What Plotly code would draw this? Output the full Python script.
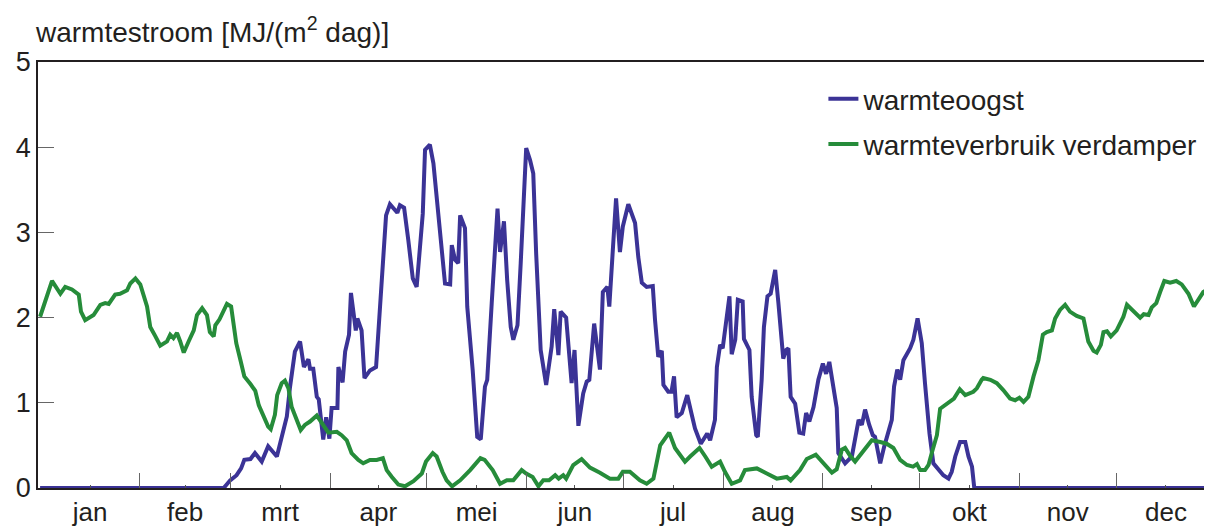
import plotly.graph_objects as go

# ---- data ----
maanden = ["jan", "feb", "mrt", "apr", "mei", "jun", "jul", "aug", "sep", "okt", "nov", "dec"]
maand_midden = [15.5, 45, 74.5, 105, 135.5, 166, 196.5, 227.5, 258, 288.5, 319, 349.5]
maand_grens = [31, 59, 90, 120, 151, 181, 212, 243, 273, 304, 334]

dag_oogst = [0, 57, 59, 61, 62.4, 63.4, 65.3, 66.7, 68.8, 70.8, 73.5, 75, 76.6, 77.6, 79.1, 80.7,
             81.9, 83.3, 83.8, 84.8, 85.9, 86.5, 87.9, 88.8, 89.8, 90.5, 92.3, 92.6, 93.9, 94.7,
             95.9, 96.5, 98, 98.5, 99.8, 100.7, 102.4, 104.3, 105.5, 106.5, 107.4, 108.6, 110.9,
             111.7, 113, 114.3, 115.7, 116.9, 117.7, 118.8, 119.5, 121, 122.1, 123.6, 125.7, 127.3,
             127.8, 128.8, 129.8, 130.4, 131.9, 132.6, 134.3, 135.7, 136.8, 138.1, 138.8, 140.2,
             142.0, 142.8, 144, 145, 146.1, 146.9, 148.2, 149.2, 150, 150.9, 152.1, 153.1, 154,
             155.4, 157.1, 158.8, 159.6, 160.9, 161.6, 163.3, 165, 165.9, 167.1, 168.6, 169.7,
             170.5, 172, 173.8, 174.7, 176.1, 176.7, 178.8, 180, 180.9, 182.6, 184.7, 185.7, 186.8,
             188.3, 190.2, 190.9, 191.9, 193, 193.5, 195, 196, 196.8, 197.6, 199.2, 200.9, 202.3,
             203.3, 205.1, 207.1, 208, 209.5, 210.1, 211.1, 211.9, 214, 214.7, 215.8, 216.6, 218.1,
             218.5, 220.2, 220.9, 222.3, 222.8, 224, 224.7, 225.8, 226.8, 228.2, 229.2, 230.7,
             231.6, 232.3, 233, 234.4, 235.7, 236.9, 237.8, 238.8, 240.1, 241.6, 243, 244, 245,
             246.3, 247.3, 247.8, 249.9, 252, 253, 254.1, 255.1, 256.1, 257.4, 258.5, 259.2, 260.8,
             262, 263.3, 264.4, 265.1, 266.1, 267, 268, 270.1, 271.1, 272.4, 273.7, 274.7, 276.1,
             277.3, 278.9, 280.4, 282, 283, 284.1, 285.6, 287.2, 288.2, 289.3, 290, 364]
oogst = [0, 0, 0.09, 0.15, 0.23, 0.33, 0.34, 0.41, 0.31, 0.49, 0.37, 0.60, 0.84, 1.19, 1.60, 1.72,
         1.42, 1.51, 1.40, 1.40, 1.07, 1.04, 0.57, 0.83, 0.58, 0.94, 0.94, 1.42, 1.24, 1.60,
         1.80, 2.29, 1.85, 1.99, 1.85, 1.29, 1.38, 1.42, 2.17, 2.70, 3.20, 3.33, 3.23,
         3.32, 3.29, 2.91, 2.46, 2.36, 2.71, 3.22, 3.97, 4.03, 3.81, 3.22, 2.40, 2.39,
         2.85, 2.68, 2.64, 3.20, 3.05, 2.13, 1.38, 0.60, 0.57, 1.19, 1.27, 2.17,
         3.28, 2.77, 3.13, 2.44, 1.89, 1.74, 1.91, 2.64, 3.26, 3.99, 3.85, 3.69, 2.75,
         1.62, 1.21, 1.66, 2.10, 1.56, 2.07, 2.00, 1.23, 1.62, 0.73, 1.11, 1.25,
         1.27, 1.93, 1.39, 2.30, 2.36, 2.13, 3.40, 2.77, 3.07, 3.33, 3.11, 2.71, 2.41,
         2.36, 2.37, 1.97, 1.54, 1.61, 1.21, 1.13, 1.13, 1.31, 0.83, 0.88, 1.09, 0.86,
         0.70, 0.52, 0.64, 0.56, 0.80, 1.42, 1.68, 1.64, 2.25, 1.57, 1.74, 2.21, 2.19,
         1.75, 1.62, 1.07, 0.62, 0.60, 1.27, 1.89, 2.25, 2.28, 2.56, 2.17, 1.52,
         1.62, 1.64, 1.07, 0.99, 0.65, 0.64, 0.88, 0.78, 0.95, 1.27, 1.46, 1.34, 1.48,
         1.15, 0.94, 0.41, 0.29, 0.37, 0.56, 0.80, 0.74, 0.92, 0.74, 0.62, 0.60, 0.29,
         0.48, 0.66, 0.80, 1.19, 1.39, 1.27, 1.50, 1.64, 1.74, 1.99, 1.70, 1.23, 0.64,
         0.29, 0.21, 0.15, 0.11, 0.19, 0.37, 0.54, 0.54, 0.37, 0.25, 0, 0]

dag_verbruik = [0, 1.6, 3.7, 6.3, 7.8, 9.9, 12, 12.7, 14, 16.6, 18.7, 20.2, 21.3, 23.3, 24.8, 27, 28,
                29.6, 31.1, 33.2, 34.2, 35.8, 37.3, 39.4, 40.4, 41.4, 42.5, 43.5, 44.6, 46.1, 47.7,
                48.7, 50.3, 51.8, 52.7, 53.9, 54.4, 55.7, 56.5, 58, 59.3, 60.9, 62.2, 63.4, 65.3,
                66.8, 67.9, 69.3, 70.8, 71.6, 72.9, 73.6, 75, 76, 77.1, 78.1, 79.7, 80.9, 82.2,
                83.8, 85.9, 87.4, 89.5, 92.1, 93.6, 95.2, 96.7, 98.8, 100.3, 102.4, 104.5, 106.4,
                107.6, 109.2, 111.2, 113.3, 115.9, 118.5, 119.8, 121.9, 123.1, 124.9, 126.2, 127.9,
                130.4, 133.5, 136.7, 138, 140.5, 142.8, 144.9, 146.9, 149.5, 150.9, 152.9, 154.7,
                156.2, 158, 159.9, 161, 162.4, 163.3, 165.5, 168.1, 170.7, 173.8, 176.9, 179.5,
                180.9, 183.1, 186.2, 188.3, 190.4, 192.5, 195.3, 197.1, 200.2, 201.8, 204.7, 206.5,
                208.5, 211.1, 212.6, 214.7, 217.3, 218.8, 222.5, 225.6, 228.7, 231.8, 233, 235.9,
                238, 240.8, 243.2, 245.8, 247.3, 248.9, 249.9, 251.4, 253, 254.6, 256.6, 258.2,
                260.8, 262.8, 264.9, 267, 269.1, 271, 272.2, 273.2, 274.7, 275.8, 276.8, 278.4,
                279.4, 281.5, 283.7, 285.5, 287.2, 289.7, 290.8, 292.3, 292.8, 295, 297, 299, 301.1,
                302.7, 304, 305.3, 306.8, 308.4, 309.9, 311.3, 312.5, 314.1, 315.1, 316.6, 318.2,
                319.7, 321.8, 323.9, 325.4, 327, 328, 329.3, 330.1, 331.2, 332.4, 334.2, 336.3,
                337.4, 339.4, 341.5, 342.6, 344.1, 345.1, 346.5, 347.7, 349, 350.8, 352.7, 354.4,
                356.5, 358.2, 359.6, 361.1, 362.7, 363.8]
verbruik = [2.01, 2.19, 2.43, 2.28, 2.36, 2.33, 2.27, 2.07, 1.97, 2.03, 2.15, 2.17, 2.16, 2.27, 2.28,
            2.32, 2.40, 2.46, 2.39, 2.13, 1.89, 1.78, 1.67, 1.72, 1.80, 1.76, 1.82, 1.72, 1.59,
            1.72, 1.85, 2.03, 2.11, 2.03, 1.83, 1.78, 1.91, 1.98, 2.05, 2.16, 2.13, 1.70, 1.50,
            1.31, 1.22, 1.14, 0.97, 0.86, 0.72, 0.69, 0.86, 1.09, 1.23, 1.26, 1.17, 0.95, 0.80,
            0.68, 0.74, 0.78, 0.85, 0.76, 0.65, 0.66, 0.62, 0.56, 0.41, 0.33, 0.29, 0.33, 0.33,
            0.35, 0.21, 0.13, 0.04, 0.02, 0.08, 0.17, 0.31, 0.41, 0.37, 0.19, 0.09, 0.02,
            0.09, 0.21, 0.35, 0.33, 0.21, 0.05, 0.09, 0.09, 0.21, 0.17, 0.13, 0.02,
            0.09, 0.09, 0.15, 0.11, 0.15, 0.11, 0.27, 0.34, 0.24, 0.18, 0.11, 0.11,
            0.19, 0.19, 0.09, 0.05, 0.11, 0.50, 0.65, 0.47, 0.31, 0.37, 0.47, 0.37,
            0.25, 0.31, 0.19, 0.05, 0.09, 0.21, 0.23, 0.17, 0.11, 0.13, 0.09, 0.21,
            0.34, 0.39, 0.29, 0.18, 0.22, 0.45, 0.47, 0.38, 0.31, 0.39, 0.48, 0.56,
            0.54, 0.52, 0.47, 0.33, 0.27, 0.25, 0.28, 0.21, 0.21, 0.27, 0.41, 0.62,
            0.93, 0.99, 1.05, 1.16, 1.09, 1.13, 1.17, 1.27, 1.29, 1.27, 1.23, 1.15, 1.05,
            1.03, 1.06, 1.01, 1.07, 1.31, 1.50, 1.80, 1.83, 1.85, 1.99, 2.09, 2.15,
            2.07, 2.02, 1.99, 1.72, 1.61, 1.59, 1.68, 1.83, 1.84, 1.78, 1.85, 2.01,
            2.15, 2.07, 2.00, 2.04, 2.03, 2.12, 2.17, 2.30, 2.43, 2.41, 2.43, 2.39,
            2.28, 2.13, 2.21, 2.30, 2.34, 2.39]

BLAUW = "#3b3396"
GROEN = "#268c3a"
TEKST = "#231f20"
FONT = "Liberation Sans, Arial, Helvetica, sans-serif"

fig = go.Figure()
fig.add_trace(go.Scatter(x=dag_oogst, y=oogst, mode="lines", name="warmteoogst",
                         legendgroup="a", line=dict(color=BLAUW, width=4)))
fig.add_trace(go.Scatter(x=dag_verbruik, y=verbruik, mode="lines",
                         name="warmteverbruik verdamper", legendgroup="b",
                         line=dict(color=GROEN, width=4)))

# the page body adds an 8 px offset; the figure is sized to fill the rest of the window
fig.update_layout(
    width=1204, height=518,
    margin=dict(l=30, r=0, t=54, b=38, autoexpand=False),
    paper_bgcolor="white", plot_bgcolor="white",
    font=dict(family=FONT, size=26, color=TEKST),
    showlegend=True,
    legend=dict(x=0.669, y=0.972, xanchor="left", yanchor="top",
                bgcolor="rgba(0,0,0,0)", borderwidth=0,
                font=dict(size=28, color=TEKST),
                traceorder="grouped", tracegroupgap=6),
    annotations=[dict(text="warmtestroom [MJ/(m<sup>2</sup> dag)]",
                      xref="paper", yref="paper", x=0, y=1, xanchor="left",
                      yanchor="bottom", xshift=-5, yshift=12, showarrow=False,
                      font=dict(size=28, color=TEKST))],
)
fig.update_xaxes(
    range=[-0.65, 363.8], showgrid=False, zeroline=False, automargin=False,
    showline=True, linecolor="#231f20", linewidth=1.5, mirror=True,
    tickmode="array", tickvals=maand_midden, ticktext=maanden,
    ticks="inside", ticklen=3, tickcolor="#555555", tickwidth=1,
    tickfont=dict(size=26, color=TEKST),
    minor=dict(tickmode="array", tickvals=maand_grens, ticks="inside",
               ticklen=15, tickcolor="#666666", tickwidth=1.2),
)
fig.update_yaxes(
    range=[0, 5], showgrid=False, zeroline=False, automargin=False,
    showline=True, linecolor="#231f20", linewidth=1.5,
    tickmode="array", tickvals=[0, 1, 2, 3, 4, 5],
    ticks="inside", ticklen=16, tickcolor="#666666", tickwidth=1.2,
    tickfont=dict(size=27, color=TEKST),
)

fig.write_html("out.html")
